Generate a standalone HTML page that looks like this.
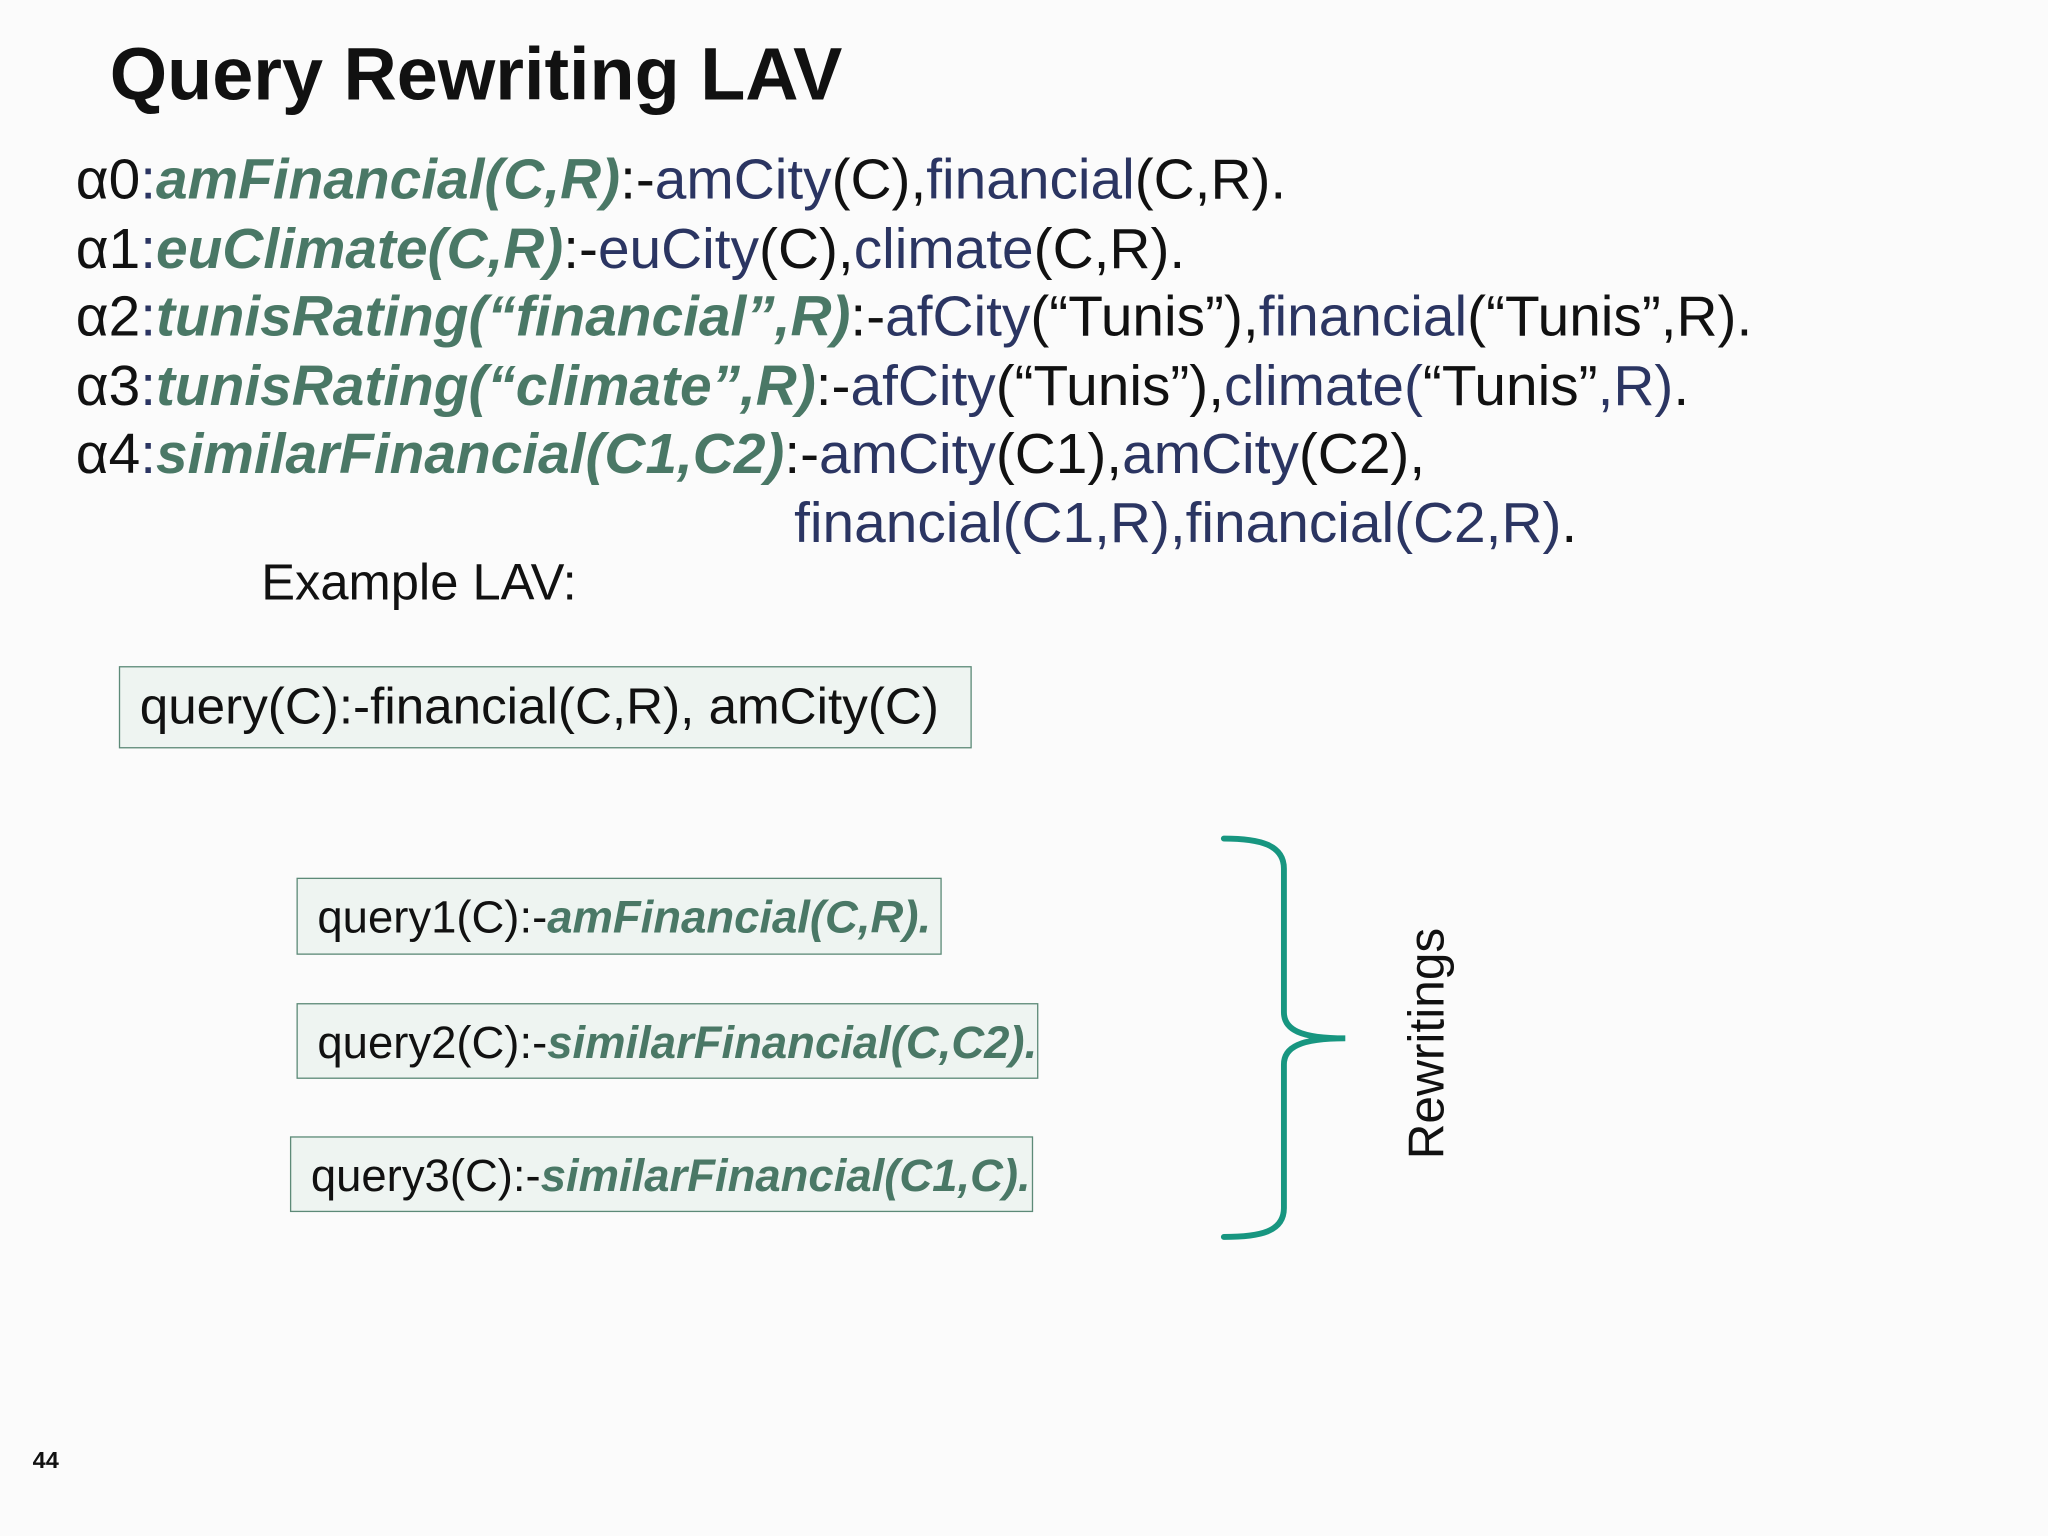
<!DOCTYPE html>
<html><head><meta charset="utf-8"><style>
html,body{margin:0;padding:0;background:#fbfbfb;}
body{width:2048px;height:1536px;overflow:hidden;position:relative;}
#w{position:absolute;left:0;top:0;width:1568px;height:1176px;transform:scale(1.30612);transform-origin:0 0;font-family:"Liberation Sans",Arial,sans-serif;color:#111;}
.t{position:absolute;white-space:nowrap;}
.g{color:#4a7866;font-weight:bold;font-style:italic;}
.n{color:#2b3562;}
.box{position:absolute;background:#eef4f1;border:1.5px solid #5d8a78;box-sizing:border-box;}
.l{font-size:43.5px;left:58px;}
</style></head><body><div id="w">
<div class="t" style="left:84px;top:24px;font-size:56.5px;font-weight:bold;">Query Rewriting LAV</div>
<div class="t l" style="top:114px;">α0<span class="n">:</span><span class="g">amFinancial(C,R)</span>:-<span class="n">amCity</span>(C),<span class="n">financial</span>(C,R).</div>
<div class="t l" style="top:167px;">α1<span class="n">:</span><span class="g">euClimate(C,R)</span>:-<span class="n">euCity</span>(C),<span class="n">climate</span>(C,R).</div>
<div class="t l" style="top:219px;">α2<span class="n">:</span><span class="g">tunisRating(“financial”,R)</span>:-<span class="n">afCity</span>(“Tunis”),<span class="n">financial</span>(“Tunis”,R).</div>
<div class="t l" style="top:272px;">α3<span class="n">:</span><span class="g">tunisRating(“climate”,R)</span>:-<span class="n">afCity</span>(“Tunis”),<span class="n">climate(</span>“Tunis”<span class="n">,R)</span>.</div>
<div class="t l" style="top:324px;">α4<span class="n">:</span><span class="g">similarFinancial(C1,C2)</span>:-<span class="n">amCity</span>(C1),<span class="n">amCity</span>(C2),</div>
<div class="t l" style="top:377px;left:608px;"><span class="n">financial(C1,R),financial(C2,R)</span>.</div>
<div class="t" style="left:200px;top:425px;font-size:38.8px;">Example LAV:</div>
<div class="box" style="left:91px;top:510px;width:653px;height:63px;"></div>
<div class="t" style="left:107px;top:520px;font-size:39.2px;">query(C):-financial(C,R), amCity(C)</div>
<div class="box" style="left:227px;top:672px;width:494px;height:59px;"></div>
<div class="t" style="left:243px;top:683px;font-size:34.8px;">query1(C):-<span class="g">amFinancial(C,R).</span></div>
<div class="box" style="left:227px;top:768px;width:568px;height:58px;"></div>
<div class="t" style="left:243px;top:779px;font-size:34.8px;">query2(C):-<span class="g">similarFinancial(C,C2).</span></div>
<div class="box" style="left:222px;top:870px;width:569px;height:58px;"></div>
<div class="t" style="left:238px;top:881px;font-size:34.8px;">query3(C):-<span class="g">similarFinancial(C1,C).</span></div>
<svg style="position:absolute;left:0;top:0" width="1568" height="1176">
<path d="M937 642 C965 642 983 647 983 665 L983 775 C983 788 995 795 1030 795 C995 795 983 802 983 815 L983 925 C983 943 965 947 937 947" fill="none" stroke="#179680" stroke-width="4.5" stroke-linecap="round"/>
<text x="0" y="0" font-size="38" font-family="Liberation Sans, Arial, sans-serif" fill="#111" text-anchor="middle" transform="translate(1105,799) rotate(-90)">Rewritings</text>
</svg>
<div class="t" style="left:25px;top:1108px;font-size:18px;font-weight:bold;">44</div>
</div></body></html>
